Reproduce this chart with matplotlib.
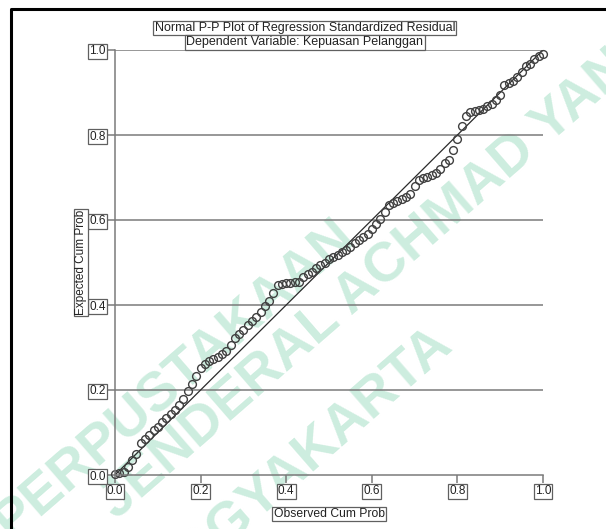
import matplotlib.pyplot as plt
from matplotlib.lines import Line2D

plt.rcParams['font.family'] = ['Liberation Sans', 'DejaVu Sans']

# observed cumulative probability (x) and expected cumulative probability (y)
observed = [0.00, 0.01, 0.02, 0.03, 0.04, 0.05, 0.06, 0.07, 0.08, 0.09,
            0.10, 0.11, 0.12, 0.13, 0.14, 0.15, 0.16, 0.17, 0.18, 0.19,
            0.20, 0.21, 0.22, 0.23, 0.24, 0.25, 0.26, 0.27, 0.28, 0.29,
            0.30, 0.31, 0.32, 0.33, 0.34, 0.35, 0.36, 0.37, 0.38, 0.39,
            0.40, 0.41, 0.42, 0.43, 0.44, 0.45, 0.46, 0.47, 0.48, 0.49,
            0.50, 0.51, 0.52, 0.53, 0.54, 0.55, 0.56, 0.57, 0.58, 0.59,
            0.60, 0.61, 0.62, 0.63, 0.64, 0.65, 0.66, 0.67, 0.68, 0.69,
            0.70, 0.71, 0.72, 0.73, 0.74, 0.75, 0.76, 0.77, 0.78, 0.79,
            0.80, 0.81, 0.82, 0.83, 0.84, 0.85, 0.86, 0.87, 0.88, 0.89,
            0.90, 0.91, 0.92, 0.93, 0.94, 0.95, 0.96, 0.97, 0.98, 0.99, 1.00]
expected = [0.003, 0.005, 0.008, 0.020, 0.035, 0.050, 0.075, 0.085, 0.095, 0.106,
            0.113, 0.125, 0.135, 0.143, 0.152, 0.165, 0.180, 0.198, 0.213, 0.232,
            0.252, 0.262, 0.268, 0.272, 0.277, 0.285, 0.292, 0.305, 0.322, 0.332,
            0.341, 0.352, 0.362, 0.372, 0.383, 0.398, 0.410, 0.428, 0.447, 0.450,
            0.452, 0.452, 0.453, 0.455, 0.465, 0.472, 0.478, 0.488, 0.494, 0.500,
            0.508, 0.513, 0.518, 0.524, 0.530, 0.536, 0.545, 0.553, 0.560, 0.568,
            0.578, 0.590, 0.602, 0.618, 0.635, 0.640, 0.645, 0.649, 0.655, 0.662,
            0.680, 0.693, 0.698, 0.702, 0.706, 0.710, 0.720, 0.735, 0.742, 0.765,
            0.790, 0.822, 0.845, 0.854, 0.857, 0.859, 0.862, 0.868, 0.874, 0.882,
            0.895, 0.918, 0.923, 0.928, 0.936, 0.948, 0.962, 0.968, 0.978, 0.985, 0.990]

ticks = [0.0, 0.2, 0.4, 0.6, 0.8, 1.0]
tick_labels = ['0.0', '0.2', '0.4', '0.6', '0.8', '1.0']

title_1 = 'Normal P-P Plot of Regression Standardized Residual'
title_2 = 'Dependent Variable: Kepuasan Pelanggan'

grey = '#7a7a7a'
box = dict(boxstyle='square,pad=0.1', fc='white', ec='#606060', lw=0.9)

fig = plt.figure(figsize=(6.06, 5.29), dpi=100)

# watermark of the library, kept under the chart
wm = dict(color='#cdeddf', fontsize=40, fontweight='bold', rotation=41,
          ha='center', va='center', zorder=-1)
fig.text(175 / 606, 1 - 380 / 529, 'PERPUSTAKAAN', **wm)
fig.text(372 / 606, 1 - 280 / 529, 'JENDERAL ACHMAD YANI', **wm)
fig.text(300 / 606, 1 - 465 / 529, 'YOGYAKARTA', **wm)

ax = fig.add_axes([115 / 606, 1 - 475 / 529, 428 / 606, 425 / 529])
ax.patch.set_alpha(0)

ax.plot([0, 1], [0, 1], color='#2a2a2a', lw=0.9, zorder=2)
ax.plot(observed, expected, 'o', ms=5.6, mfc='none', mec='#404040', mew=1.0,
        clip_on=False, zorder=2.4)

ax.set_xlim(0, 1)
ax.set_ylim(0, 1)
ax.set_xticks(ticks)
ax.set_xticklabels(tick_labels)
ax.set_yticks(ticks)
ax.set_yticklabels(tick_labels)

for y in ticks[1:]:
    ax.axhline(y, color=grey, lw=1.1, zorder=1)

for s in ['top', 'right']:
    ax.spines[s].set_visible(False)
for s in ['left', 'bottom']:
    ax.spines[s].set_color(grey)
    ax.spines[s].set_linewidth(1.1)

ax.tick_params(axis='both', direction='out', length=6, width=1.1, color=grey,
               labelsize=8.5, labelcolor='#222222')
ax.tick_params(axis='x', pad=1.5)
ax.tick_params(axis='y', pad=0.5)
for lab in ax.get_xticklabels() + ax.get_yticklabels():
    lab.set_bbox(box)

ax.set_xlabel('Observed Cum Prob', fontsize=8.7, labelpad=7.5, color='#222222',
              bbox=box)
ax.set_ylabel('Expected Cum Prob', fontsize=8.5, labelpad=2, color='#222222',
              bbox=box)

fig.text(0.503, 1 - 28 / 529, title_1, ha='center', va='center', fontsize=9,
         color='#222222', bbox=box)
fig.text(0.503, 1 - 42.5 / 529, title_2, ha='center', va='center', fontsize=9,
         color='#222222', bbox=box)

# outer frame of the screenshot
fig.add_artist(Line2D([11 / 606, 11 / 606, 1], [0, 1 - 8.5 / 529, 1 - 8.5 / 529],
                      color='black', lw=2.2, transform=fig.transFigure))

plt.savefig('out.png', dpi=100)
plt.close('all')
